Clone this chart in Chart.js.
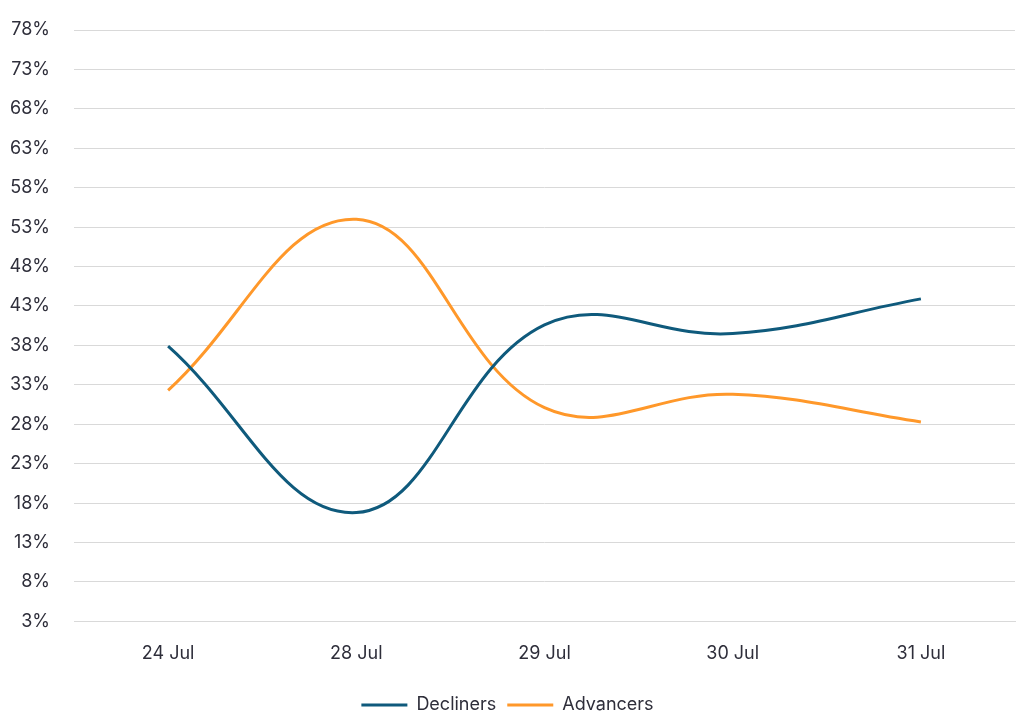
<!DOCTYPE html>
<html>
<head>
<meta charset="utf-8">
<script src="https://cdn.jsdelivr.net/npm/chart.js@4"></script>
<style>
    html, body { margin: 0; padding: 0; background: #fff; }
    #wrap { width: 1024px; height: 724px; }
</style>
</head>
<body>
<div id="wrap"><canvas id="chart"></canvas></div>
<script>
    const days = ['24 Jul', '28 Jul', '29 Jul', '30 Jul', '31 Jul'];
    const decliners = [37.9, 16.8, 40.6, 39.5, 43.9];
    const advancers = [32.3, 54.0, 30.1, 31.8, 28.3];

    let ctx = document.getElementById('chart');
    Chart.defaults.font.family = 'Inter, "Open Sans", sans-serif';
    Chart.defaults.color = '#2e2e3a';

    new Chart(ctx, {
        type: 'line',
        data: {
            labels: days,
            datasets: [{
                label: 'Decliners',
                data: decliners,
                borderColor: '#0f5a7c',
                backgroundColor: '#0f5a7c',
                borderWidth: 3,
                pointRadius: 0,
                tension: 0.4
            }, {
                label: 'Advancers',
                data: advancers,
                borderColor: '#ff982a',
                backgroundColor: '#ff982a',
                borderWidth: 3,
                pointRadius: 0,
                tension: 0.4
            }]
        },
        options: {
            responsive: true,
            maintainAspectRatio: false,
            animation: false,
            layout: { padding: { top: 30, right: 9, left: 0, bottom: 0 } },
            scales: {
                x: {
                    offset: true,
                    grid: { display: false, drawTicks: false },
                    border: { color: '#d9d9d9', width: 1 },
                    ticks: { font: { size: 18 }, padding: 21 }
                },
                y: {
                    min: 3,
                    max: 78,
                    afterFit: (scale) => {
                        scale.width = 74;
                        scale.paddingTop = 0;
                    },
                    grid: { color: '#d9d9d9', drawTicks: false },
                    border: { display: false },
                    ticks: {
                        stepSize: 5,
                        font: { size: 18 },
                        padding: 24,
                        callback: (v) => v + '%'
                    }
                }
            },
            plugins: {
                legend: {
                    position: 'bottom',
                    labels: {
                        usePointStyle: true,
                        pointStyleWidth: 46,
                        pointStyle: 'line',
                        font: { size: 18 },
                        padding: 11
                    }
                },
                tooltip: { enabled: false }
            }
        }
    });
</script>
</body>
</html>
